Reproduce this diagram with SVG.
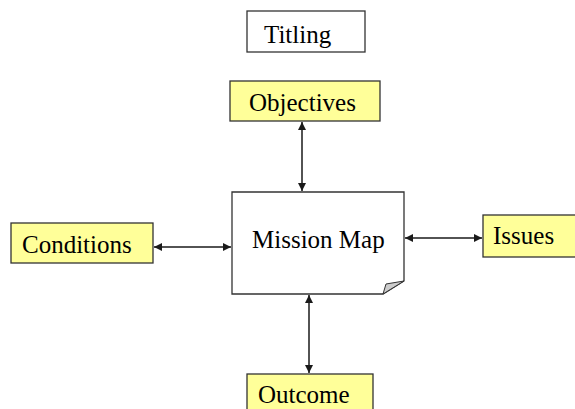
<svg xmlns="http://www.w3.org/2000/svg" width="575" height="409" viewBox="0 0 575 409">
  <style>
    .box { fill: #FFFF99; stroke: #333333; stroke-width: 1.3; }
    .plain { fill: #FFFFFF; stroke: #333333; stroke-width: 1.3; }
    .lbl { font-family: "Liberation Serif", "Times New Roman", serif; font-size: 25px; fill: #000000; }
    .conn { stroke: #1a1a1a; stroke-width: 1.5; fill: none; marker-start: url(#arr); marker-end: url(#arr); }
  </style>
  <defs>
    <marker id="arr" viewBox="0 0 10 10" refX="10" refY="5" markerWidth="8" markerHeight="8" markerUnits="userSpaceOnUse" orient="auto-start-reverse">
      <path d="M0,0 L10,5 L0,10 Z" fill="#1a1a1a"/>
    </marker>
  </defs>

  <g id="titling">
    <rect class="plain" x="247" y="11" width="118" height="41"/>
    <text class="lbl" x="264" y="43">Titling</text>
  </g>

  <g id="objectives">
    <rect class="box" x="230" y="81" width="150" height="40"/>
    <text class="lbl" x="249" y="111">Objectives</text>
  </g>

  <g id="conditions">
    <rect class="box" x="11" y="223" width="142" height="40"/>
    <text class="lbl" x="22" y="253">Conditions</text>
  </g>

  <g id="mission-map">
    <path class="plain" d="M232,192 H404 V281 L383,294 H232 Z"/>
    <!-- curled page corner -->
    <path d="M404,281 L383,294 L386,284 Z" fill="#cccccc" stroke="#333333" stroke-width="1"/>
    <text class="lbl" x="252" y="248">Mission Map</text>
  </g>

  <g id="issues">
    <rect class="box" x="483" y="215" width="100" height="42"/>
    <text class="lbl" x="493" y="244">Issues</text>
  </g>

  <g id="outcome">
    <rect class="box" x="247" y="374" width="126" height="45"/>
    <text class="lbl" x="258" y="403">Outcome</text>
  </g>

  <g id="connectors">
    <line class="conn" x1="302" y1="122" x2="302" y2="191"/>
    <line class="conn" x1="154" y1="247" x2="231" y2="247"/>
    <line class="conn" x1="405" y1="238" x2="482" y2="238"/>
    <line class="conn" x1="309" y1="295" x2="309" y2="373"/>
  </g>
</svg>
